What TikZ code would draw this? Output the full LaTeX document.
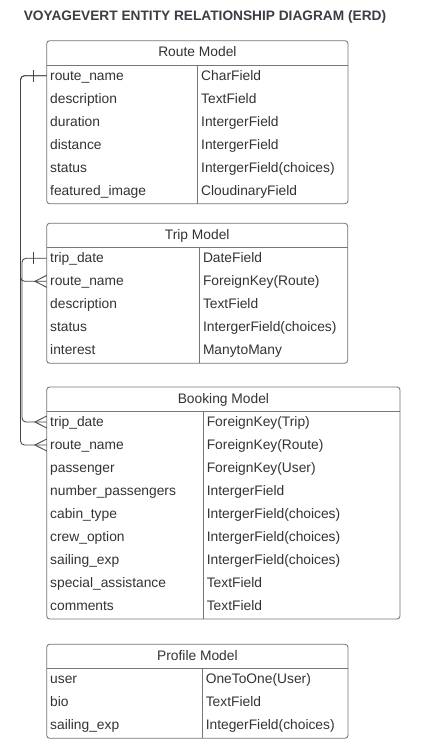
\documentclass[tikz,border=0pt]{standalone}
\usepackage{fontspec}
\setmainfont{Liberation Sans}
\usetikzlibrary{calc}
\definecolor{txt}{HTML}{333333}
\definecolor{ttl}{HTML}{3A3F46}
\definecolor{frm}{HTML}{73767C}
\definecolor{cn}{HTML}{444444}
\begin{document}
\begin{tikzpicture}[x=1pt,y=-1pt,
  frame/.style={draw=frm, line width=0.85pt, rounded corners=3pt},
  rule/.style={draw=frm, line width=0.85pt},
  fld/.style={anchor=west, inner xsep=3.3pt, inner ysep=0pt, text height=11pt, text depth=2pt, font=\fontsize{13.8}{16}\selectfont, text=txt},
  hdr/.style={inner sep=0pt, text height=10pt, text depth=3pt, font=\fontsize{13.8}{16}\selectfont, text=txt},
  conn/.style={draw=cn, line width=0.85pt, rounded corners=4pt},
  mark0/.style={draw=cn, line width=0.85pt}]
\useasboundingbox[fill=white] (0,0) rectangle (424,752);

\node[font=\bfseries\fontsize{13.7}{16}\selectfont, text=ttl, anchor=base, inner sep=0pt] (title) at (205,21) {VOYAGEVERT ENTITY RELATIONSHIP DIAGRAM (ERD)};

% Route Model
\draw[frame] (46.7,40.7) rectangle (348,203.7);
\draw[rule] (46.7,65.2) -- (348,65.2);
\draw[rule] (197.7,65.2) -- (197.7,203.7);
\node[hdr] (rh) at (197.4,53.2) {Route Model};
\foreach \n/\t [count=\i] in {route\_name/CharField, description/TextField, duration/IntergerField, distance/IntergerField, status/IntergerField(choices), featured\_image/CloudinaryField}{
  \node[fld] (r\i) at (46.7,{75.7+23*(\i-1)}) {\n};
  \node[fld] (rt\i) at (197.7,{75.7+23*(\i-1)}) {\t};
}

% Trip Model
\draw[frame] (46.7,223.3) rectangle (347.7,363.3);
\draw[rule] (46.7,247.8) -- (347.7,247.8);
\draw[rule] (199.5,247.8) -- (199.5,363.3);
\node[hdr] (th) at (197.2,235.8) {Trip Model};
\foreach \n/\t [count=\i] in {trip\_date/DateField, route\_name/ForeignKey(Route), description/TextField, status/IntergerField(choices), interest/ManytoMany}{
  \node[fld] (t\i) at (46.7,{258.3+23*(\i-1)}) {\n};
  \node[fld] (tt\i) at (199.5,{258.3+23*(\i-1)}) {\t};
}

% Booking Model
\draw[frame] (46.7,387) rectangle (400,619);
\draw[rule] (46.7,411.5) -- (400,411.5);
\draw[rule] (203.3,411.5) -- (203.3,619);
\node[hdr] (bh) at (223.4,399.5) {Booking Model};
\foreach \n/\t [count=\i] in {trip\_date/ForeignKey(Trip), route\_name/ForeignKey(Route), passenger/ForeignKey(User), number\_passengers/IntergerField, cabin\_type/IntergerField(choices), crew\_option/IntergerField(choices), sailing\_exp/IntergerField(choices), special\_assistance/TextField, comments/TextField}{
  \node[fld] (b\i) at (46.7,{422+23*(\i-1)}) {\n};
  \node[fld] (bt\i) at (203.3,{422+23*(\i-1)}) {\t};
}

% Profile Model
\draw[frame] (46.7,644.3) rectangle (348,738.3);
\draw[rule] (46.7,668.8) -- (348,668.8);
\draw[rule] (202.3,668.8) -- (202.3,738.3);
\node[hdr] (ph) at (197.4,656.8) {Profile Model};
\foreach \n/\t [count=\i] in {user/OneToOne(User), bio/TextField, sailing\_exp/IntegerField(choices)}{
  \node[fld] (p\i) at (46.7,{679.3+23*(\i-1)}) {\n};
  \node[fld] (pt\i) at (202.3,{679.3+23*(\i-1)}) {\t};
}

% Connectors
\draw[conn] (r1.west) -- ++(-26.2,0) |- (t2.west);
\draw[conn] (r1.west) -- ++(-26.2,0) |- (b2.west);
\draw[conn] (t1.west) -- ++(-24.7,0) |- (b1.west);

% one marks
\draw[mark0] ($(r1.west)+(-13.4,-6)$) -- ($(r1.west)+(-13.4,6)$);
\draw[mark0] ($(t1.west)+(-13.4,-6)$) -- ($(t1.west)+(-13.4,6)$);
% many marks
\foreach \m in {t2,b1,b2}{
  \draw[mark0] ($(\m.west)+(0,-6)$) -- ($(\m.west)+(-11.7,0)$) -- ($(\m.west)+(0,6)$);
}
\end{tikzpicture}
\end{document}
